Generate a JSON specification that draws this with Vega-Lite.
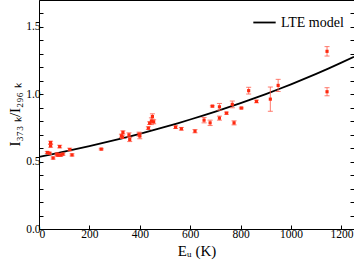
{
  "$schema": "https://vega.github.io/schema/vega-lite/v6.json",
  "width": 315,
  "height": 229,
  "autosize": "none",
  "padding": {"left": 39, "top": 0, "right": 0, "bottom": 37},
  "background": "white",
  "config": {
    "font": "Liberation Serif",
    "view": {"stroke": "black", "strokeWidth": 1},
    "axis": {
      "grid": false,
      "domainColor": "black",
      "tickColor": "black",
      "labelColor": "black",
      "titleColor": "black",
      "labelFont": "Liberation Serif",
      "titleFont": "Liberation Serif",
      "labelFontSize": 11.5,
      "titleFontSize": 15,
      "titleFontWeight": "normal",
      "tickSize": -4,
      "labelPadding": 3
    }
  },
  "datasets": {
    "obs": [
      {"E": 33, "r": 0.568, "err": 0.008},
      {"E": 42, "r": 0.562, "err": 0.008},
      {"E": 46, "r": 0.642, "err": 0.01},
      {"E": 46, "r": 0.617, "err": 0.01},
      {"E": 56, "r": 0.527, "err": 0.008},
      {"E": 71, "r": 0.556, "err": 0.008},
      {"E": 75, "r": 0.548, "err": 0.01},
      {"E": 82, "r": 0.612, "err": 0.01},
      {"E": 86, "r": 0.549, "err": 0.01},
      {"E": 95, "r": 0.556, "err": 0.008},
      {"E": 122, "r": 0.59, "err": 0.01},
      {"E": 131, "r": 0.55, "err": 0.008},
      {"E": 247, "r": 0.593, "err": 0.006},
      {"E": 327, "r": 0.692, "err": 0.012},
      {"E": 333, "r": 0.717, "err": 0.012},
      {"E": 331, "r": 0.682, "err": 0.01},
      {"E": 357, "r": 0.699, "err": 0.015},
      {"E": 360, "r": 0.664, "err": 0.015},
      {"E": 397, "r": 0.704, "err": 0.015},
      {"E": 400, "r": 0.69, "err": 0.02},
      {"E": 434, "r": 0.749, "err": 0.01},
      {"E": 439, "r": 0.786, "err": 0.01},
      {"E": 446, "r": 0.8, "err": 0.025},
      {"E": 450, "r": 0.835, "err": 0.02},
      {"E": 455, "r": 0.796, "err": 0.015},
      {"E": 542, "r": 0.756, "err": 0.01},
      {"E": 565, "r": 0.744, "err": 0.01},
      {"E": 619, "r": 0.726, "err": 0.012},
      {"E": 655, "r": 0.808, "err": 0.02},
      {"E": 679, "r": 0.788, "err": 0.02},
      {"E": 688, "r": 0.912, "err": 0.006},
      {"E": 716, "r": 0.907, "err": 0.025},
      {"E": 716, "r": 0.823, "err": 0.015},
      {"E": 744, "r": 0.86, "err": 0.008},
      {"E": 767, "r": 0.925, "err": 0.025},
      {"E": 774, "r": 0.788, "err": 0.015},
      {"E": 803, "r": 0.898, "err": 0.006},
      {"E": 832, "r": 1.027, "err": 0.025},
      {"E": 863, "r": 0.947, "err": 0.01},
      {"E": 918, "r": 0.964, "err": 0.09},
      {"E": 949, "r": 1.066, "err": 0.045},
      {"E": 1143, "r": 1.319, "err": 0.035},
      {"E": 1143, "r": 1.019, "err": 0.03}
    ],
    "model": [
      {"E": 0, "r": 0.535},
      {"E": 50, "r": 0.554},
      {"E": 100, "r": 0.5736},
      {"E": 150, "r": 0.594},
      {"E": 200, "r": 0.615},
      {"E": 250, "r": 0.6368},
      {"E": 300, "r": 0.6594},
      {"E": 350, "r": 0.6828},
      {"E": 400, "r": 0.707},
      {"E": 450, "r": 0.7321},
      {"E": 500, "r": 0.7581},
      {"E": 550, "r": 0.7849},
      {"E": 600, "r": 0.8128},
      {"E": 650, "r": 0.8416},
      {"E": 700, "r": 0.8714},
      {"E": 750, "r": 0.9024},
      {"E": 800, "r": 0.9343},
      {"E": 850, "r": 0.9675},
      {"E": 900, "r": 1.0018},
      {"E": 950, "r": 1.0373},
      {"E": 1000, "r": 1.0741},
      {"E": 1050, "r": 1.1122},
      {"E": 1100, "r": 1.1516},
      {"E": 1150, "r": 1.1925},
      {"E": 1200, "r": 1.2348},
      {"E": 1250, "r": 1.2786}
    ]
  },
  "resolve": {"axis": {"y": "independent"}},
  "layer": [
    {
      "data": {"name": "model"},
      "mark": {"type": "line", "strokeWidth": 1.8, "clip": true},
      "encoding": {
        "x": {
          "field": "E", "type": "quantitative",
          "scale": {"domain": [0, 1250], "nice": false, "zero": false},
          "axis": {
            "title": "Eᵤ (K)",
            "format": "d",
            "values": [0, 50, 100, 150, 200, 250, 300, 350, 400, 450, 500, 550, 600, 650, 700, 750, 800, 850, 900, 950, 1000, 1050, 1100, 1150, 1200],
            "labelExpr": "datum.value % 200 === 0 ? datum.label : ''",
            "titlePadding": 4
          }
        },
        "y": {
          "field": "r", "type": "quantitative",
          "scale": {"domain": [0, 1.7], "nice": false, "zero": false},
          "axis": {
            "title": "I₃₇₃ ₖ/I₂₉₆ ₖ",
            "values": [0, 0.1, 0.2, 0.3, 0.4, 0.5, 0.6, 0.7, 0.8, 0.9, 1.0, 1.1, 1.2, 1.3, 1.4, 1.5, 1.6],
            "labelExpr": "abs(datum.value * 2 - round(datum.value * 2)) < 0.001 ? format(datum.value, '.1f') : ''",
            "titlePadding": 3
          }
        },
        "color": {
          "datum": "LTE model",
          "type": "nominal",
          "scale": {"range": ["black"]},
          "legend": {
            "title": null,
            "orient": "top-right",
            "symbolType": "stroke",
            "symbolStrokeWidth": 1.8,
            "symbolSize": 500,
            "labelFont": "Liberation Serif",
            "labelFontSize": 14,
            "labelColor": "black",
            "offset": 10
          }
        }
      }
    },
    {
      "data": {"name": "obs"},
      "mark": {"type": "errorbar", "color": "#ff5a4a", "opacity": 0.8, "ticks": {"size": 5}},
      "encoding": {
        "x": {"field": "E", "type": "quantitative"},
        "y": {
          "field": "r", "type": "quantitative",
          "axis": {
            "orient": "right",
            "title": null,
            "labels": false,
            "values": [0, 0.1, 0.2, 0.3, 0.4, 0.5, 0.6, 0.7, 0.8, 0.9, 1.0, 1.1, 1.2, 1.3, 1.4, 1.5, 1.6]
          }
        },
        "yError": {"field": "err"}
      }
    },
    {
      "data": {"name": "obs"},
      "mark": {"type": "square", "color": "#ff2a10", "opacity": 1, "size": 10},
      "encoding": {
        "x": {"field": "E", "type": "quantitative"},
        "y": {"field": "r", "type": "quantitative", "axis": null}
      }
    }
  ]
}
